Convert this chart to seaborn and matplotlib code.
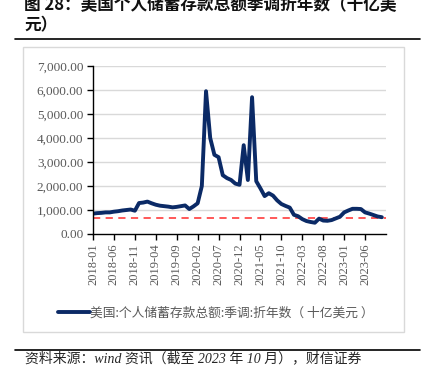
import matplotlib
matplotlib.use("Agg")
import matplotlib.pyplot as plt
import seaborn as sns
import pandas as pd
from matplotlib.lines import Line2D
from matplotlib.patches import Rectangle
from matplotlib.ticker import FuncFormatter

# monthly data, 2018-01 .. 2023-10 (billion USD, SAAR)
months = pd.date_range("2018-01", periods=70, freq="MS").strftime("%Y-%m").tolist()
savings = [850, 870, 880, 900, 900, 930, 950, 980, 1000, 1020,
           970, 1290, 1310, 1350, 1280, 1220, 1180, 1160, 1140, 1110,
           1130, 1160, 1190, 1040, 1150, 1280, 2000, 5950, 4000, 3300,
           3200, 2450, 2330, 2250, 2100, 2050, 3700, 2250, 5700, 2200,
           1900, 1580, 1700, 1600, 1400, 1250, 1170, 1100, 800, 740,
           620, 540, 500, 470, 640, 560, 550, 580, 650, 720,
           900, 980, 1050, 1050, 1040, 900, 850, 790, 730, 700]
ref_level = 650
tick_labels = ["2018-01", "2018-06", "2018-11", "2019-04", "2019-09", "2020-02", "2020-07",
               "2020-12", "2021-05", "2021-10", "2022-03", "2022-08", "2023-01", "2023-06"]

df = pd.DataFrame({"idx": range(len(months)), "month": months, "value": savings})

sns.set_theme(style="white")
plt.rcParams["font.family"] = ["Liberation Serif", "Noto Sans CJK SC"]

fig = plt.figure(figsize=(4.28, 3.75), dpi=100)
ax = fig.add_axes([0.2173, 0.376, 0.6846, 0.448])

gray = "#595959"
navy = "#0B2A66"

for v in range(1000, 8000, 1000):
    ax.axhline(v, color="#D9D9D9", lw=1, zorder=0)

sns.lineplot(data=df, x="idx", y="value", ax=ax, color=navy, lw=2.8,
             label="美国:个人储蓄存款总额:季调:折年数（十亿美元）", legend=False)
ax.axhline(ref_level, color="#FF4B4B", lw=1.3, ls=(0, (4, 3)), zorder=1)

ax.set_xlim(0, 70)
ax.set_ylim(0, 7000)
ax.set_yticks(range(0, 8000, 1000))
ax.yaxis.set_major_formatter(FuncFormatter(lambda v, p: f"{v:,.2f}"))
ax.set_xticks([months.index(t) for t in tick_labels])
ax.set_xticklabels(tick_labels, rotation=90)
ax.set_xlabel("")
ax.set_ylabel("")
for s in ["top", "right"]:
    ax.spines[s].set_visible(False)
for s in ["left", "bottom"]:
    ax.spines[s].set_color("black")
    ax.spines[s].set_linewidth(1)
ax.tick_params(axis="both", which="major", direction="out", length=4, width=1,
               color="black", labelcolor=gray, labelsize=9.5, pad=3, left=True, bottom=True)
ax.tick_params(axis="x", labelsize=9)

# chart frame
fig.add_artist(Rectangle((23 / 428, 1 - 332 / 375), 381 / 428, 285 / 375,
                         transform=fig.transFigure, fill=False, ec="#D9D9D9", lw=1))

handle = Line2D([], [], color=navy, lw=2.8)
fig.legend([handle], ["美国:个人储蓄存款总额:季调:折年数（ 十亿美元 ）"],
           loc="center", bbox_to_anchor=(0.505, 1 - 313 / 375), frameon=False,
           handlelength=2.5, handletextpad=0.0,
           prop={"family": ["Noto Sans CJK SC"], "size": 9.2}, labelcolor=gray)

# title, rules and source
fig.text(24 / 428, 1 - 5 / 375, "图 28：美国个人储蓄存款总额季调折年数（十亿美",
         fontsize=12, fontweight="bold", va="center", ha="left",
         family=["Noto Sans CJK SC"], color="#111111")
fig.text(24 / 428, 1 - 25 / 375, "元）", fontsize=12, fontweight="bold",
         va="center", ha="left", family=["Noto Sans CJK SC"], color="#111111")
fig.add_artist(Line2D([15 / 428, 420 / 428], [1 - 39 / 375] * 2, color="black", lw=1.2))
fig.add_artist(Line2D([15 / 428, 420 / 428], [1 - 350 / 375] * 2, color="black", lw=1.2))
fig.text(25 / 428, 1 - 358 / 375, "资料来源：wind 资讯（截至 2023 年 10 月），财信证券",
         fontsize=10, style="italic", va="center", ha="left",
         family=["Liberation Serif", "Noto Sans CJK SC"])

fig.savefig("out.png", dpi=100)
